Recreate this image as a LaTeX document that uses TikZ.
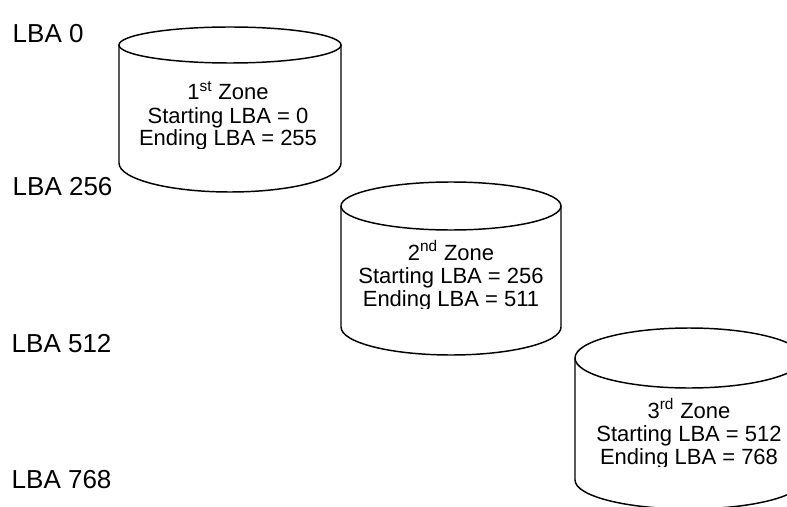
\documentclass[tikz,border=0pt]{standalone}
\usepackage{fontspec}
\setmainfont{Liberation Sans}
\begin{document}
\begin{tikzpicture}[x=0.75pt,y=-0.75pt,line width=1.1pt,
  lbl/.style={anchor=base west,inner sep=0pt,font=\fontsize{19.5}{22}\selectfont},
  ztxt/.style={anchor=base,inner sep=0pt,font=\fontsize{16.5}{18}\selectfont}]
\useasboundingbox (0,0) rectangle (787,506);
\clip (0,0) rectangle (787,506);
% labels
\node[lbl] (l0) at (12,43) {LBA 0};
\node[lbl] (l256) at (12,195) {LBA 256};
\node[lbl] (l512) at (11,352) {LBA 512};
\node[lbl] (l768) at (11,488) {LBA 768};
% cylinder 1
\draw (230,45) ellipse [x radius=111, y radius=18];
\draw (119,45) -- (119,163) arc[start angle=180,end angle=0,x radius=111,y radius=29] -- (341,45);
\begin{scope}
\clip (119,60) rectangle (341,148);
\node[ztxt] (z1a) at (228,100) {1\textsuperscript{st} Zone};
\node[ztxt] (z1b) at (228,123) {Starting LBA = 0};
\node[ztxt] (z1c) at (228,146) {Ending LBA = 255};
\end{scope}
% cylinder 2
\draw (451,206) ellipse [x radius=110, y radius=24];
\draw (341,206) -- (341,327) arc[start angle=180,end angle=0,x radius=110,y radius=28] -- (561,206);
\begin{scope}
\clip (341,220) rectangle (561,308);
\node[ztxt] (z2a) at (451,260) {2\textsuperscript{nd} Zone};
\node[ztxt] (z2b) at (451,283) {Starting LBA = 256};
\node[ztxt] (z2c) at (451,306) {Ending LBA = 511};
\end{scope}
% cylinder 3
\draw (689,358) ellipse [x radius=114, y radius=30];
\draw (575,358) -- (575,480) arc[start angle=180,end angle=0,x radius=114,y radius=29] -- (803,358);
\begin{scope}
\clip (575,380) rectangle (803,466);
\node[ztxt] (z3a) at (689,418) {3\textsuperscript{rd} Zone};
\node[ztxt] (z3b) at (689,441) {Starting LBA = 512};
\node[ztxt] (z3c) at (689,464) {Ending LBA = 768};
\end{scope}
\end{tikzpicture}
\end{document}
